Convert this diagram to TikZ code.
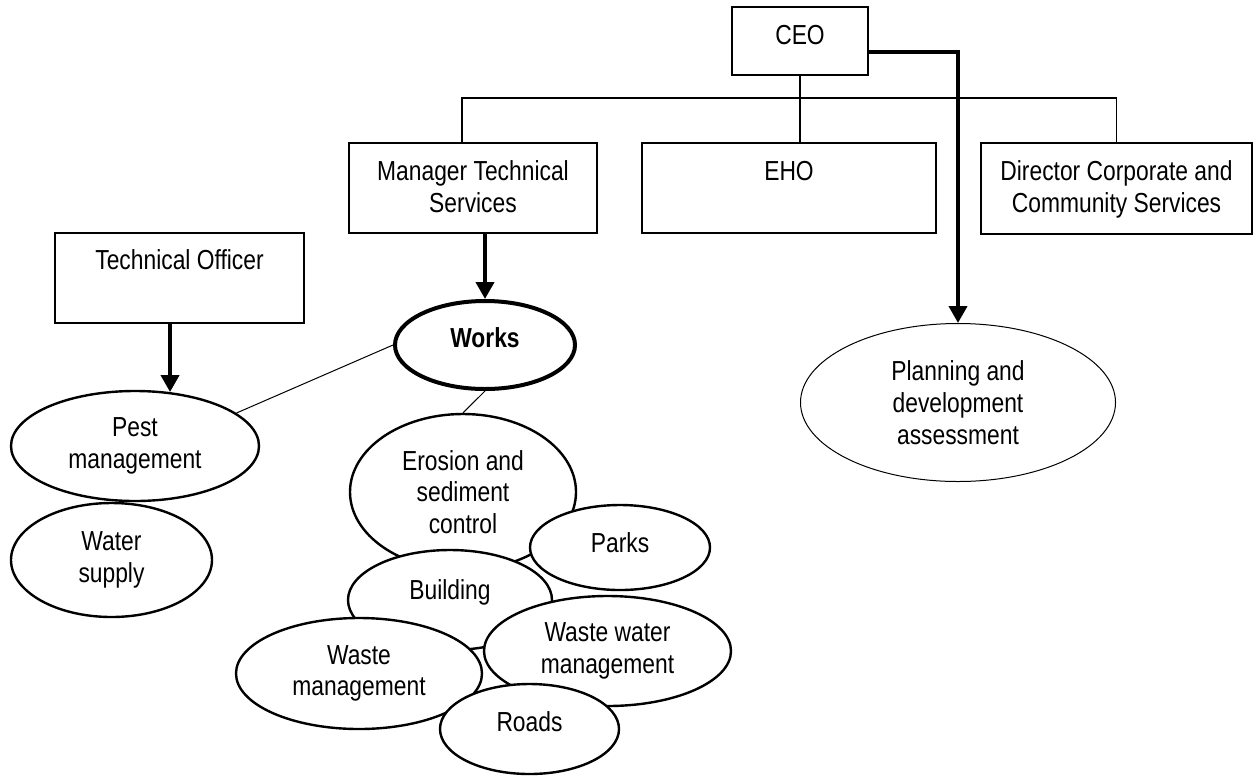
\documentclass[tikz,border=0pt]{standalone}
\usepackage{fontspec}
\setmainfont{Liberation Sans}[FakeStretch=0.83]
\usetikzlibrary{shapes.geometric,arrows.meta,calc}

\newcommand\labelfont{\fontsize{27.5}{31.7}\selectfont}
% centred multi-line text whose reference point is the first baseline
\newcommand\boxlines[2]{\parbox[t]{#1}{\labelfont\centering #2}}

\tikzset{
  orgbox/.style={draw, line width=1.3pt, fill=white, inner sep=0pt},
  boxtext/.style={anchor=base, inner sep=0pt, font=\labelfont},
  unit/.style={ellipse, draw, line width=2.4pt, fill=white, inner sep=0pt,
               align=center, font=\labelfont},
  tree/.style={line width=1.3pt},
  link/.style={line width=1pt},
  report/.style={line width=4pt, -{Triangle[length=17pt,width=18pt]}},
}

\begin{document}
\begin{tikzpicture}[x=1pt,y=-1pt]
\useasboundingbox (0,0) rectangle (1257,777);

% ---- management boxes ----
\node[orgbox, minimum width=136, minimum height=68] (ceo) at (800,41) {};
\node[boxtext] (ceotext) at ($(ceo.north)+(0,38)$) {CEO};

\node[orgbox, minimum width=248, minimum height=90] (mgr) at (473,188) {};
\node[boxtext] (mgrtext) at ($(mgr.north)+(0,38)$) {\boxlines{240pt}{Manager Technical\\Services}};

\node[orgbox, minimum width=294, minimum height=90] (eho) at (789,188) {};
\node[boxtext] (ehotext) at ($(eho.north)+(0,38)$) {EHO};

\node[orgbox, minimum width=271, minimum height=91] (dir) at (1116.5,188.5) {};
\node[boxtext] (dirtext) at ($(dir.north)+(0,38)$) {\boxlines{265pt}{Director Corporate and\\Community Services}};

\node[orgbox, minimum width=249, minimum height=90] (tech) at (179.5,278) {};
\node[boxtext] (techtext) at ($(tech.north)+(0,37)$) {Technical Officer};

% ---- service areas ----
\node[unit, minimum width=248, minimum height=110] (pest) at (135,446) {Pest\\management};
\node[unit, minimum width=201, minimum height=114] (water) at (111.5,560) {Water\\supply};

\node[unit, line width=4pt, minimum width=180, minimum height=88, text depth=14pt] (works) at (485,345) {\textbf{Works}};

\node[unit, minimum width=226, minimum height=156] (erosion) at (463,492) {Erosion and\\sediment\\control};
\node[unit, minimum width=180, minimum height=85, text depth=10pt] (parks) at (620,547.5) {Parks};
\node[unit, minimum width=204, minimum height=100, text depth=20pt] (building) at (450,600) {Building};
\node[unit, minimum width=247, minimum height=110] (wastewater) at (607.5,651) {Waste water\\management};
\node[unit, minimum width=246, minimum height=111] (waste) at (359,673.5) {Waste\\management};
\node[unit, minimum width=179, minimum height=90, text depth=14pt] (roads) at (529.5,729) {Roads};

\node[unit, line width=1pt, minimum width=315, minimum height=158] (plan) at (958,402.5) {Planning and\\development\\assessment};

% ---- reporting lines ----
\coordinate (bus) at (462,98);
\draw[tree] (ceo.south) -- (ceo.south |- eho.north);
\draw[tree] (bus |- mgr.north) -- (bus) -- (bus -| dir.north) -- (dir.north);

\draw[report] (ceo.-9.2) -| (plan.north);
\draw[report] (works.north |- mgr.south) -- (works.north);
\draw[report] (pest.57 |- tech.south) -- (pest.57);

\draw[link] (works.west) -- (pest.18);
\draw[link] (works.south) -- (erosion.north);
\end{tikzpicture}
\end{document}
